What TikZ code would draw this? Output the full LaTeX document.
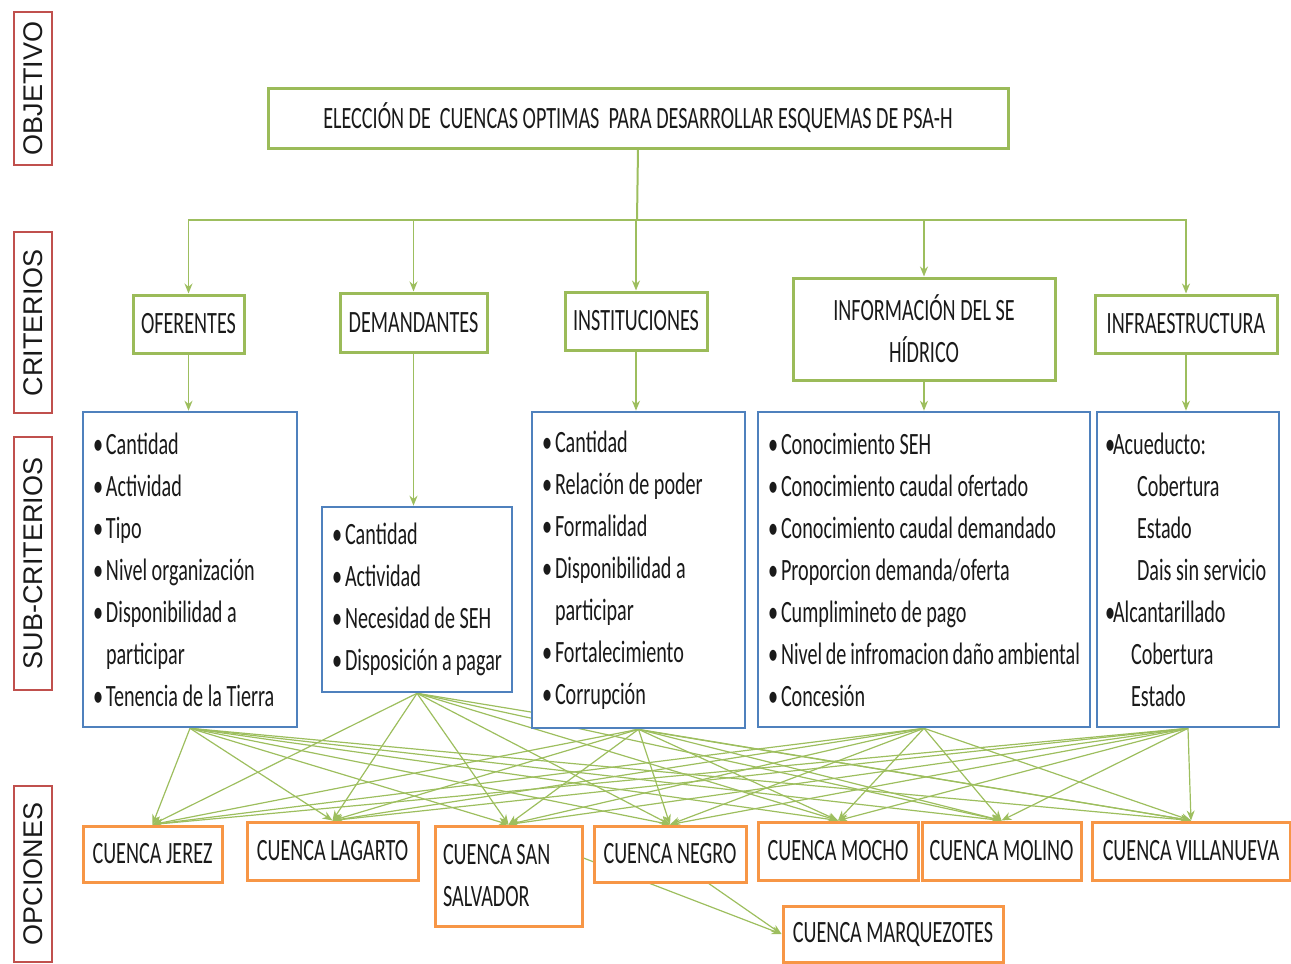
\documentclass[tikz,border=0pt]{standalone}
\usepackage{fontspec}
\setmainfont{Carlito}[FakeStretch=0.65]
\newfontfamily\lblfont{Liberation Sans}
\usepackage{tikz}
\usetikzlibrary{arrows.meta,calc}
\pgfdeclarelayer{edgelayer}
\pgfsetlayers{edgelayer,main}

\definecolor{lblred}{HTML}{C0504D}
\definecolor{critgreen}{HTML}{9BBB59}
\definecolor{linkgreen}{HTML}{9DBE5E}
\definecolor{subblue}{HTML}{4F81BD}
\definecolor{opcorange}{HTML}{F79646}
\definecolor{txtgray}{HTML}{1A1A1A}

\newcommand{\txt}{\fontsize{15.5}{21}\selectfont\color{txtgray}\hyphenpenalty=10000}
\newcommand{\bul}{\makebox[6.5pt][l]{•}}

\begin{document}
\begin{tikzpicture}[x=0.5pt,y=-0.5pt,
  lbl/.style={draw=lblred,line width=1.2pt,fill=white,rotate=90,inner sep=0pt,
    font=\lblfont\fontsize{13.5}{15}\selectfont\color{txtgray}},
  crit/.style={draw=critgreen,line width=1.5pt,fill=white,align=center,inner sep=0pt,font=\txt},
  sub/.style={draw=subblue,line width=1.3pt,fill=white,align=flush left,inner xsep=5pt,inner ysep=0pt,font=\txt},
  opc/.style={draw=opcorange,line width=1.5pt,fill=white,inner sep=0pt,font=\txt},
  link/.style={draw=linkgreen,line width=0.8pt,-{Stealth[length=5pt,width=4pt]}},
  mesh/.style={link,line width=0.6pt}]
\useasboundingbox (0,0) rectangle (1291,964);

% niveles
\node (lobj) [lbl,minimum width=76.5pt,minimum height=19pt] at (33,88.5) {OBJETIVO};
\node (lcrit) [lbl,minimum width=90.5pt,minimum height=19pt] at (33,322.5) {CRITERIOS};
\node (lsub) [lbl,minimum width=126.5pt,minimum height=19pt] at (33,563.5) {SUB-CRITERIOS};
\node (lopc) [lbl,minimum width=88pt,minimum height=19pt] at (33,874) {OPCIONES};

% objetivo y criterios
\node (obj) [crit,minimum width=370pt,minimum height=30pt] at (638,118) {ELECCIÓN DE~ CUENCAS OPTIMAS~ PARA DESARROLLAR ESQUEMAS DE PSA-H};
\node (ofe) [crit,minimum width=55.5pt,minimum height=29pt] at (188.5,324) {OFERENTES};
\node (dem) [crit,minimum width=73.5pt,minimum height=29.5pt] at (413.5,322.5) {DEMANDANTES};
\node (ins) [crit,minimum width=71pt,minimum height=29pt] at (636,321) {INSTITUCIONES};
\node (inf) [crit,minimum width=131pt,minimum height=51pt] at (924,329) {INFORMACIÓN DEL SE\\HÍDRICO};
\node (infra) [crit,minimum width=91pt,minimum height=29pt] at (1186,324) {INFRAESTRUCTURA};
\coordinate (bar) at (637,220);

% sub-criterios
\node (subofe) [sub,text width=97pt,minimum height=157.5pt] at (190,569.5)
  {\bul Cantidad\\ \bul Actividad\\ \bul Tipo\\ \bul Nivel~organización\\ \bul Disponibilidad~a\\ \hspace*{6.5pt}participar\\ \bul Tenencia~de~la~Tierra};
\node (subdem) [sub,text width=85pt,minimum height=92.5pt] at (417,599.5)
  {\bul Cantidad\\ \bul Actividad\\ \bul Necesidad~de~SEH\\ \bul Disposición~a~pagar};
\node (subins) [sub,text width=96.5pt,minimum height=158pt] at (638.5,570)
  {\bul Cantidad\\ \bul Relación~de~poder\\ \bul Formalidad\\ \bul Disponibilidad~a\\ \hspace*{6.5pt}participar\\ \bul Fortalecimiento\\ \bul Corrupción};
\node (subinf) [sub,text width=156pt,minimum height=157.5pt] at (924,569.5)
  {\bul Conocimiento~SEH\\ \bul Conocimiento~caudal~ofertado\\ \bul Conocimiento~caudal~demandado\\ \bul Proporcion~demanda/oferta\\ \bul Cumplimineto~de~pago\\ \bul Nivel~de~infromacion~daño~ambiental\\ \bul Concesión};
\node (subinfra) [sub,inner xsep=4pt,text width=83pt,minimum height=157.5pt] at (1188,569.5)
  {\makebox[4pt][l]{•}Acueducto:\\ \hspace*{16pt}Cobertura\\ \hspace*{16pt}Estado\\ \hspace*{16pt}Dais~sin~servicio\\ \makebox[4pt][l]{•}Alcantarillado\\ \hspace*{13pt}Cobertura\\ \hspace*{13pt}Estado};

% opciones
\node (jerez) [opc,minimum width=69.5pt,minimum height=28pt] at (152.5,854) {CUENCA JEREZ};
\node (lagarto) [opc,minimum width=85.5pt,minimum height=29pt] at (332.5,851) {CUENCA LAGARTO};
\node (ssal) [opc,align=flush left,inner xsep=4pt,text width=65.5pt,minimum height=50pt] at (508.5,876) {CUENCA~SAN\\SALVADOR};
\node (negro) [opc,minimum width=76pt,minimum height=28pt] at (670,854) {CUENCA NEGRO};
\node (mocho) [opc,minimum width=80pt,minimum height=29pt] at (838,851) {CUENCA MOCHO};
\node (molino) [opc,minimum width=79.5pt,minimum height=29pt] at (1001.5,851) {CUENCA MOLINO};
\node (villa) [opc,minimum width=99pt,minimum height=29pt] at (1191,851) {CUENCA VILLANUEVA};
\node (marq) [opc,minimum width=110pt,minimum height=28pt] at (893,934) {CUENCA MARQUEZOTES};

\begin{pgfonlayer}{edgelayer}
\draw[draw=linkgreen,line width=1pt] (obj.south) -- (bar);
\draw[draw=linkgreen,line width=1pt] (ofe.north |- bar) -- (infra.north |- bar);
\foreach \c in {ofe,dem,ins,inf,infra}
  \draw[link] (bar) -| (\c.north);
\foreach \c/\s in {ofe/subofe,dem/subdem,ins/subins,inf/subinf,infra/subinfra}
  \draw[link] (\c.south) -- (\c.south |- \s.north);
\foreach \s in {subofe,subdem,subins,subinf,subinfra}
  \foreach \o in {jerez,lagarto,ssal,negro,mocho,molino,villa}
    \draw[mesh] (\s.south) -- (\o.north);
\draw[mesh] ([yshift=9pt]ssal.east) -- (marq.west);
\draw[mesh] ($(negro.south)!0.5!(negro.south east)$) -- (marq.west);
\end{pgfonlayer}
\end{tikzpicture}
\end{document}
